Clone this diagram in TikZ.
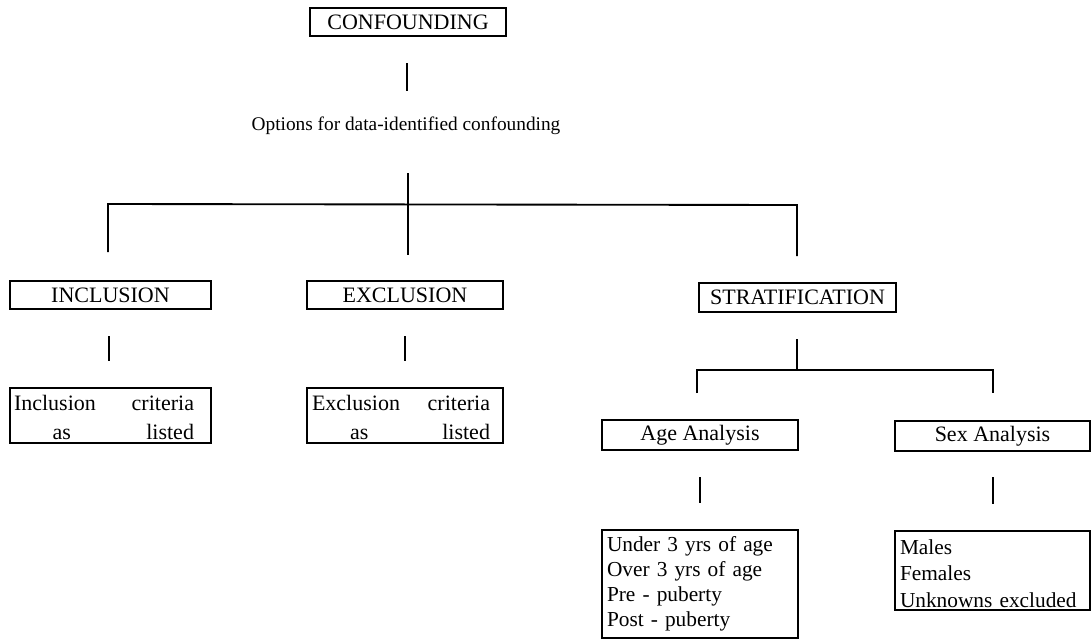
\documentclass[tikz,border=0pt]{standalone}
\usepackage{fontspec}
\setmainfont{Liberation Serif}
\begin{document}
\begin{tikzpicture}[x=0.75pt,y=-0.75pt,
  box/.style={draw, line width=1.1pt, inner sep=0pt},
  hdr/.style={box, font=\fontsize{16.5}{19}\selectfont},
  body/.style={inner sep=0pt, align=left, font=\fontsize{16}{19}\selectfont},
  link/.style={line width=1.4pt}]
\useasboundingbox (0,0) rectangle (1092,639);

% --- headings ---
\node[hdr, minimum width=147pt, minimum height=21pt] (conf) at (408,22) {CONFOUNDING};
\node[inner sep=0pt, font=\fontsize{14.5}{17}\selectfont] (opt) at (406,126) {Options for data-identified confounding};

\node[hdr, minimum width=150.75pt, minimum height=21pt] (incl) at (110.5,295) {INCLUSION};
\node[hdr, minimum width=147pt, minimum height=21pt] (excl) at (405,295) {EXCLUSION};
\node[hdr, minimum width=147.75pt, minimum height=21.75pt] (strat) at (797.5,297.5) {STRATIFICATION};

\node[hdr, minimum width=147pt, minimum height=22.5pt] (age) at (700,435) {Age Analysis};
\node[hdr, minimum width=146.25pt, minimum height=22.5pt] (sex) at (992.5,436) {Sex Analysis};

% --- criteria boxes ---
\node[box, minimum width=150.75pt, minimum height=41.25pt] (inclbox) at (110.5,415.5) {};
\node[body, text width=135pt, font=\fontsize{16.5}{21.75}\selectfont] (incltext) at (104,417.5)
  {Inclusion\hfill criteria\\ \hspace*{29pt}as\hfill listed\hspace*{7pt}};

\node[box, minimum width=147pt, minimum height=41.25pt] (exclbox) at (405,415.5) {};
\node[body, text width=133.5pt, font=\fontsize{16.5}{21.75}\selectfont] (excltext) at (401,417.5)
  {Exclusion\hfill criteria\\ \hspace*{28.5pt}as\hfill listed\hspace*{6pt}};

\node[box, minimum width=147pt, minimum height=81pt] (agebox) at (700,584) {};
\node[body, text width=141pt, font=\fontsize{16}{18.75}\selectfont] (agetext) at (701,583.5)
  {Under 3 yrs of age\\Over 3 yrs of age\\Pre - puberty\\Post - puberty};

\node[box, minimum width=146.25pt, minimum height=59.25pt] (sexbox) at (992.5,570.5) {};
\node[body, text width=141pt, font=\fontsize{16}{19.9}\selectfont] (sextext) at (994,573.5)
  {Males\\Females\\Unknowns excluded};

% --- connector ends ---
\coordinate (c1) at (407,63);  \coordinate (c2) at (407,91);
\coordinate (m1) at (408,173); \coordinate (m2) at (408,255);
\coordinate (bl) at (108,204); \coordinate (br) at (797,205);
\coordinate (dl) at (108,252); \coordinate (dr) at (797,256);
\coordinate (i1) at (109,336); \coordinate (i2) at (109,361);
\coordinate (e1) at (405,336); \coordinate (e2) at (405,361);
\coordinate (s1) at (797,339); \coordinate (s2) at (797,370);
\coordinate (sl) at (697,370); \coordinate (sr) at (993,370);
\coordinate (sld) at (697,393); \coordinate (srd) at (993,393);
\coordinate (a1) at (700,477); \coordinate (a2) at (700,503);
\coordinate (x1) at (993,477); \coordinate (x2) at (993,504);

% --- connectors ---
\draw[link] (c1) -- (c2);
\draw[link] (m1) -- (m2);
\draw[link] (dl) -- (bl) -- (br) -- (dr);
\draw[link] (i1) -- (i2);
\draw[link] (e1) -- (e2);
\draw[link] (s1) -- (s2);
\draw[link] (sld) -- (sl) -- (sr) -- (srd);
\draw[link] (a1) -- (a2);
\draw[link] (x1) -- (x2);
\end{tikzpicture}
\end{document}
